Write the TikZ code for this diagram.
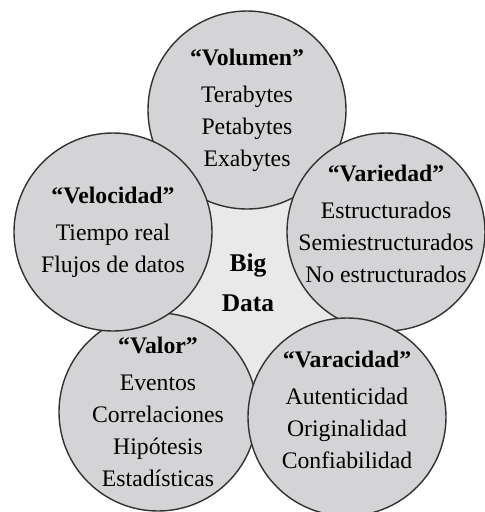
\documentclass[tikz,border=0pt]{standalone}
\usepackage{fontspec}
\setmainfont{Liberation Serif}
\definecolor{bubblegray}{RGB}{212,212,214}
\definecolor{coregray}{RGB}{233,233,233}
\definecolor{rimgray}{RGB}{50,50,50}

\begin{document}
\begin{tikzpicture}[
    bubble/.style={circle,draw=rimgray,line width=0.8pt,fill=bubblegray,
      minimum size=3.96cm,inner sep=0pt},
    vtext/.style={align=center,inner sep=0pt,
      font=\fontsize{13.5}{18.2}\selectfont}]
  \useasboundingbox (0,0) rectangle (9.7,-10.24);
  % light core behind the five circles
  \fill[coregray] (5,-5.66) circle (2.4);
  \node[bubble] (vol) at (4.94,-2.2) {};
  \node[bubble] (var) at (7.72,-4.64) {};
  \node[bubble] (val) at (3.16,-8.24) {};
  \node[bubble] (vel) at (2.26,-4.64) {};
  \node[bubble] (ver) at (6.94,-8.34) {};
  % texts
  \node[vtext] (voltext) at (vol) {\textbf{“Volumen”}\\[3pt] Terabytes\\ Petabytes\\ Exabytes};
  \node[vtext] (vartext) at ([yshift=0.16cm]var) {\textbf{“Variedad”}\\[3pt] Estructurados\\ Semiestructurados\\ No estructurados};
  \node[vtext] (veltext) at (vel) {\textbf{“Velocidad”}\\[3pt] Tiempo real\\ Flujos de datos};
  \node[vtext] (valtext) at (val) {\textbf{“Valor”}\\[3pt] Eventos\\ Correlaciones\\ Hipótesis\\ Estadísticas};
  \node[vtext] (vertext) at ([yshift=0.15cm]ver) {\textbf{“Varacidad”}\\[3pt] Autenticidad\\ Originalidad\\ Confiabilidad};
  \node[align=center,font=\fontsize{14.5}{22.7}\selectfont\bfseries] (core) at (4.96,-5.66) {Big\\ Data};
\end{tikzpicture}
\end{document}
